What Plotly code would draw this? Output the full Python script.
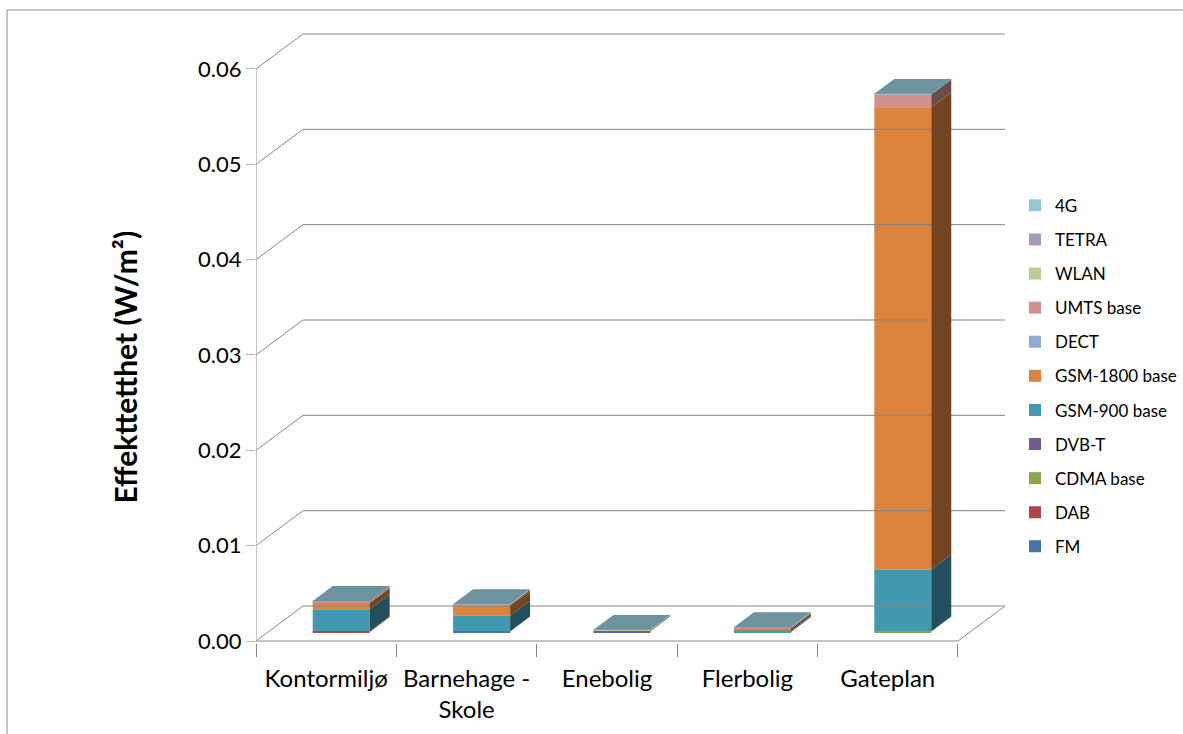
import plotly.graph_objects as go

# Measurement sites (x categories)
categories = ["Kontormiljø", "Barnehage -<br>Skole", "Enebolig", "Flerbolig", "Gateplan"]

# Power density per source, W/m² (stacked bottom -> top)
fm = [0.0, 0.00005, 0.0, 0.0, 0.0]
dab = [0.0001, 0.0, 0.0, 0.0, 0.0]
cdma = [0.0, 0.0, 0.0, 0.0, 0.00005]
dvbt = [0.0, 0.0, 0.00008, 0.0, 0.0]
gsm900 = [0.00228, 0.00165, 0.0, 0.00015, 0.0065]
gsm1800 = [0.00063, 0.00102, 0.0, 0.0002, 0.0485]
dect = [0.0, 0.0, 0.0, 0.0, 0.0]
umts = [0.0001, 0.00015, 0.0, 0.0001, 0.0013]
wlan = [0.0, 0.0, 0.0001, 0.0, 0.0]
tetra = [0.00005, 0.0, 0.0, 0.0, 0.0]
g4 = [0.0001, 0.00005, 0.00005, 0.00005, 0.0001]

series = [
    ("FM", fm, "#4673AA"),
    ("DAB", dab, "#AF4646"),
    ("CDMA base", cdma, "#8CA550"),
    ("DVB-T", dvbt, "#735A96"),
    ("GSM-900 base", gsm900, "#4198AF"),
    ("GSM-1800 base", gsm1800, "#DC833E"),
    ("DECT", dect, "#91AACD"),
    ("UMTS base", umts, "#D29191"),
    ("WLAN", wlan, "#B9CD96"),
    ("TETRA", tetra, "#AA96C3"),
    ("4G", g4, "#93C7D6"),
]

y_ticks = [0.0, 0.01, 0.02, 0.03, 0.04, 0.05, 0.06]
y_ticktext = ["0.00", "0.01", "0.02", "0.03", "0.04", "0.05", "0.06"]

# --- pseudo-3D geometry (axis units) ---
WALL_DX, WALL_DY = 0.335, 0.00367      # depth of the back wall
BAR_DX0, BAR_DY0 = 0.107, 0.00094      # position of the bar front faces
BAR_DDX, BAR_DDY = 0.142, 0.00157      # depth of each bar
BAR_W = 0.406
X_MIN, X_MAX = -0.5, len(categories) - 0.5
GRID = "#878787"
FONT = "Lato"


def shade(hex_color, k):
    h = hex_color.lstrip("#")
    r, g, b = (int(h[i:i + 2], 16) for i in (0, 2, 4))
    return "rgb(%d,%d,%d)" % (r * k, g * k, b * k)


fig = go.Figure()

# walls, floor and gridlines
gx, gy = [], []
for v in y_ticks:
    gx += [X_MIN, X_MIN + WALL_DX, X_MAX + WALL_DX, None]
    gy += [v, v + WALL_DY, v + WALL_DY, None]
gx += [X_MIN, X_MAX, X_MAX + WALL_DX, None]
gy += [0, 0, WALL_DY, None]
fig.add_trace(go.Scatter(x=gx, y=gy, mode="lines", line=dict(color=GRID, width=1),
                         hoverinfo="skip", showlegend=False))
fig.add_trace(go.Scatter(x=[X_MIN, X_MIN], y=[0, y_ticks[-1]], mode="lines",
                         line=dict(color="#B4B4B4", width=1.5),
                         hoverinfo="skip", showlegend=False))

n = len(categories)
bottoms = [0.0] * n
stack = []
for name, vals, col in series:
    stack.append((name, vals, col, list(bottoms)))
    for i in range(n):
        bottoms[i] += vals[i]

# front faces as bars (legend entries, top series first)
for rank, (name, vals, col, bot) in enumerate(reversed(stack)):
    fig.add_trace(go.Bar(
        x=[i + BAR_DX0 for i in range(n)], y=vals,
        base=[b + BAR_DY0 for b in bot], width=BAR_W,
        marker=dict(color=col, line=dict(width=0)),
        name=name, legendgroup=name, legendrank=rank + 1,
    ))

# side faces
for name, vals, col, bot in stack:
    sx, sy = [], []
    for i in range(n):
        if vals[i] <= 0:
            continue
        xr = i + BAR_DX0 + BAR_W / 2
        b = bot[i] + BAR_DY0
        t = b + vals[i]
        sx += [xr, xr + BAR_DDX, xr + BAR_DDX, xr, xr, None]
        sy += [b, b + BAR_DDY, t + BAR_DDY, t, b, None]
    if sx:
        fig.add_trace(go.Scatter(x=sx, y=sy, mode="lines", fill="toself",
                                 fillcolor=shade(col, 0.52), line=dict(width=0),
                                 hoverinfo="skip", showlegend=False, legendgroup=name))

# top faces, coloured by the highest non-zero series of each bar
for i in range(n):
    top_col = next(col for name, vals, col, bot in reversed(stack) if vals[i] > 0)
    xl = i + BAR_DX0 - BAR_W / 2
    xr = i + BAR_DX0 + BAR_W / 2
    t = bottoms[i] + BAR_DY0
    fig.add_trace(go.Scatter(
        x=[xl, xl + BAR_DDX, xr + BAR_DDX, xr, xl],
        y=[t, t + BAR_DDY, t + BAR_DDY, t, t],
        mode="lines", fill="toself", fillcolor=shade(top_col, 0.74),
        line=dict(width=0), hoverinfo="skip", showlegend=False))

# carrier for the category boundary ticks
fig.add_trace(go.Scatter(x=[X_MIN], y=[0], xaxis="x2", mode="markers",
                         marker=dict(opacity=0), hoverinfo="skip", showlegend=False))

X_RANGE = [X_MIN, X_MAX + WALL_DX + 0.007]

fig.update_layout(
    width=1183, height=734, autosize=False,
    margin=dict(l=256, r=177, t=32, b=91, autoexpand=False),
    paper_bgcolor="white", plot_bgcolor="white",
    barmode="overlay",
    font=dict(family=FONT, color="black"),
    xaxis=dict(range=X_RANGE, tickvals=list(range(n)),
               ticktext=categories, ticks="", showgrid=False, zeroline=False,
               showline=False, tickfont=dict(size=24), ticklabelstandoff=19),
    xaxis2=dict(overlaying="x", anchor="y", range=X_RANGE,
                tickvals=[X_MIN + k for k in range(n + 1)], ticks="outside",
                ticklen=13, tickcolor=GRID, tickwidth=1, showticklabels=False,
                showgrid=False, zeroline=False, showline=False),
    yaxis=dict(range=[-0.00021, 0.06388], tickvals=y_ticks, ticktext=y_ticktext,
               ticks="outside", ticklen=9, tickcolor="#B4B4B4", tickwidth=1,
               showgrid=False, zeroline=False, showline=False,
               tickfont=dict(size=22)),
    legend=dict(x=1.012, xanchor="left", y=0.745, yanchor="top",
                traceorder="grouped", tracegroupgap=9,
                font=dict(size=17), bgcolor="rgba(0,0,0,0)"),
    annotations=[dict(text="<b>Effekttetthet (W/m²)</b>", textangle=-90,
                      xref="paper", yref="paper", x=-0.175, y=0.452,
                      xanchor="center", yanchor="middle", showarrow=False,
                      font=dict(size=30, family=FONT))],
    shapes=[dict(type="rect", xref="paper", yref="paper",
                 x0=-0.332, x1=1.25, y0=-0.17, y1=1.036,
                 line=dict(color="#8C8C8C", width=1), layer="below")],
)

fig.write_html("out.html")
